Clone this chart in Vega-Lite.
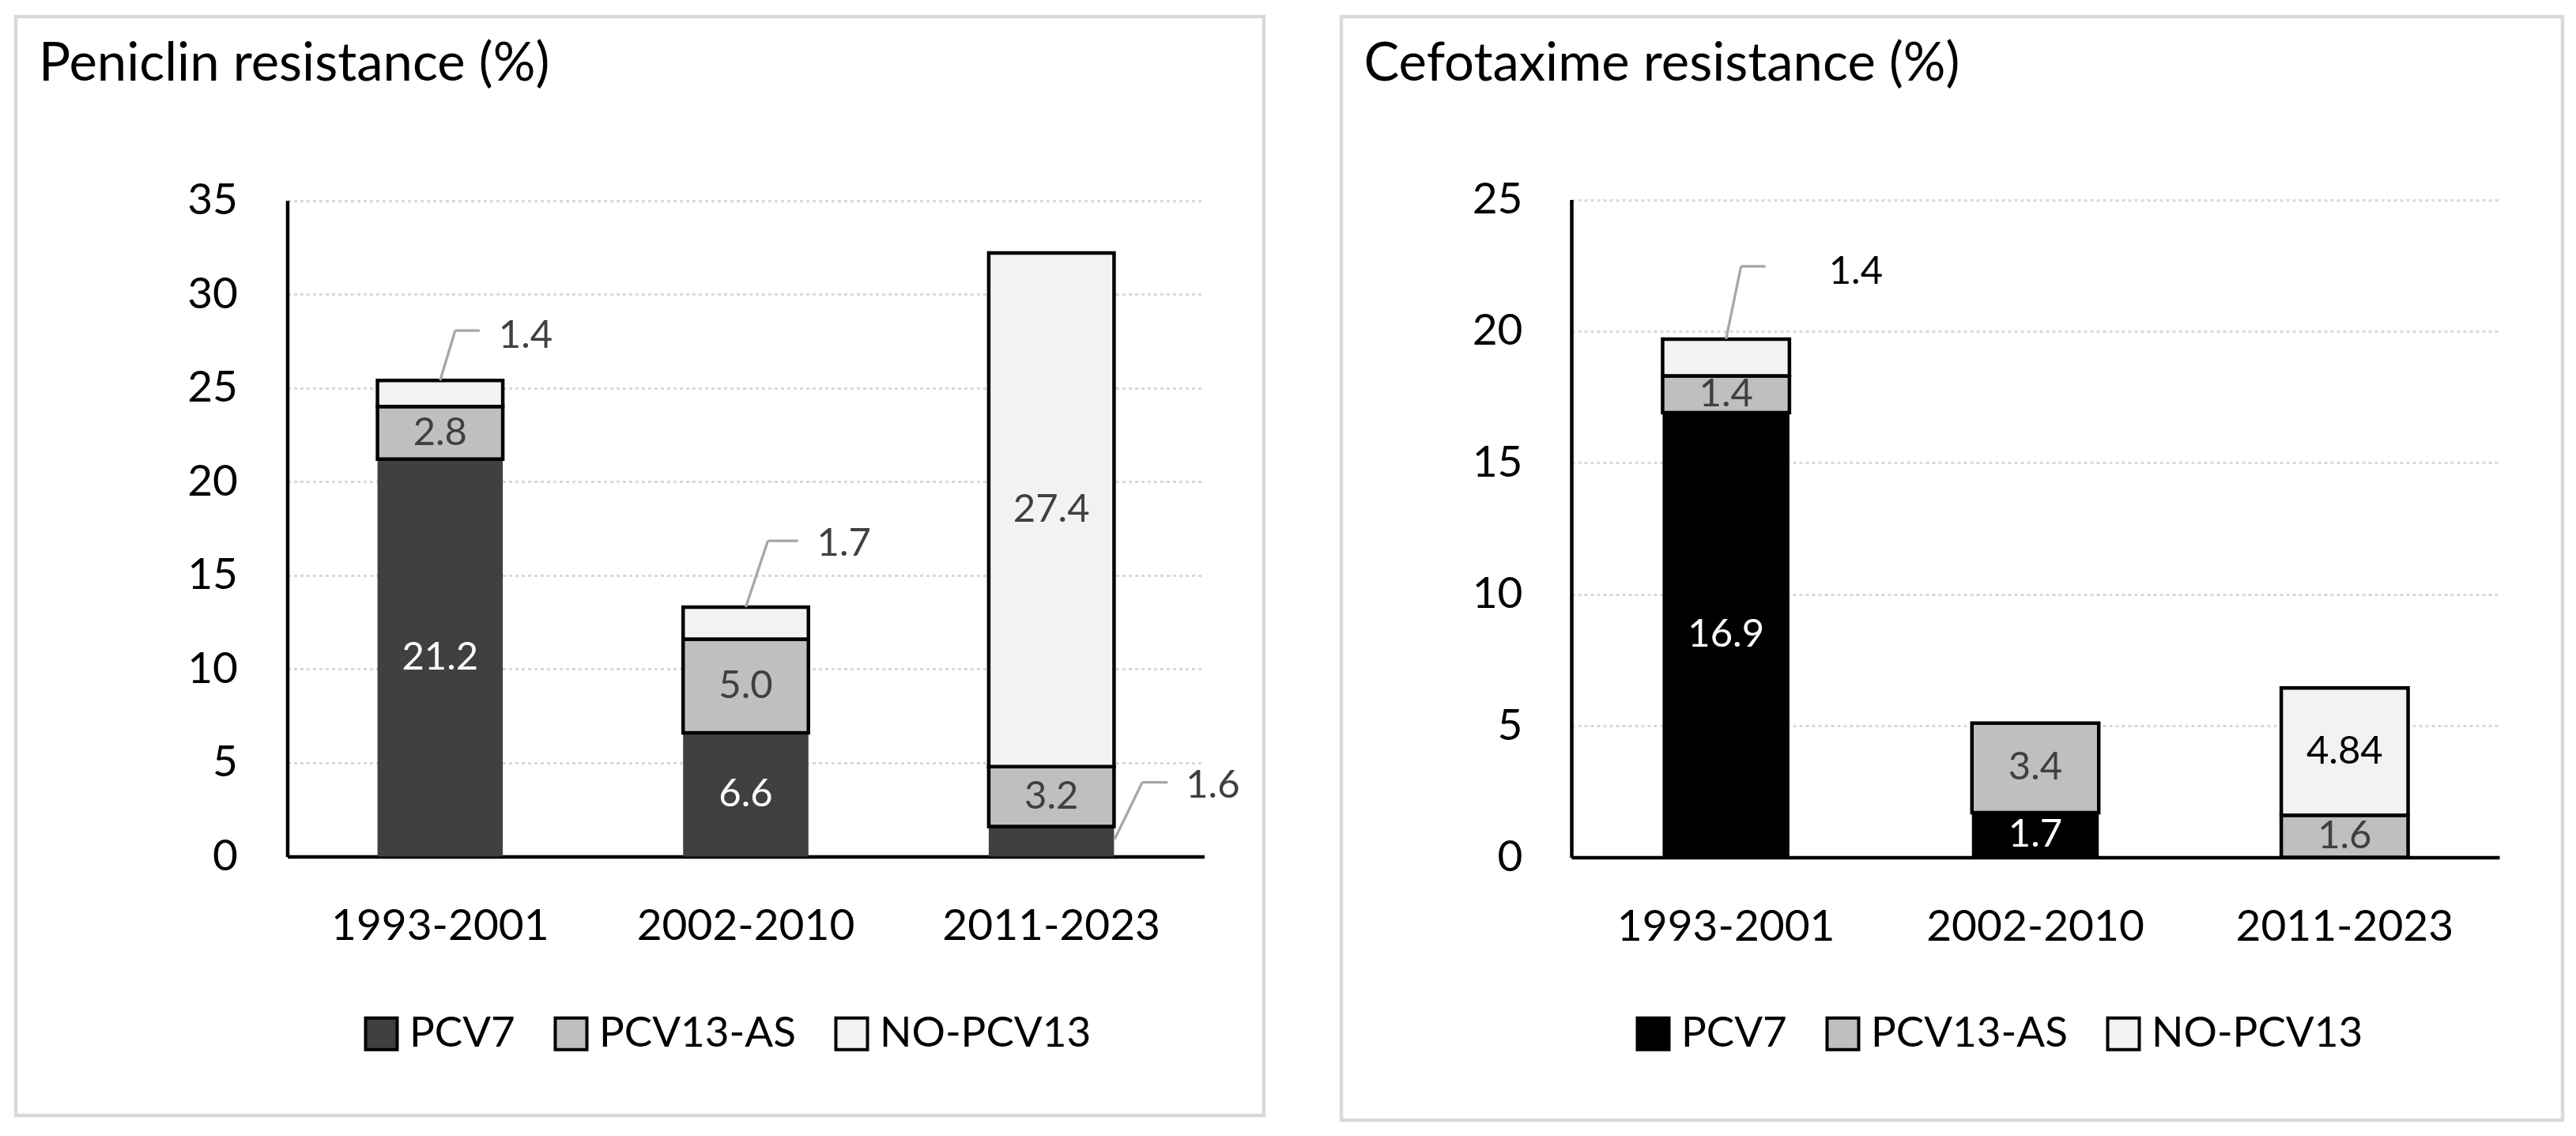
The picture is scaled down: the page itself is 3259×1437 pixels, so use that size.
{
  "$schema": "https://vega.github.io/schema/vega-lite/v6.json",
  "background": "white",
  "padding": {"left": 17, "top": 18, "right": 15, "bottom": 15},
  "spacing": 92,
  "resolve": {"scale": {"color": "independent", "x": "independent", "y": "independent"}, "legend": {"color": "independent"}, "axis": {"x": "independent", "y": "independent"}},
  "datasets": {
    "pen": [
      {"period": "1993-2001", "series": "PCV7", "value": 21.2, "label": "21.2"},
      {"period": "1993-2001", "series": "PCV13-AS", "value": 2.8, "label": "2.8"},
      {"period": "1993-2001", "series": "NO-PCV13", "value": 1.4, "label": "1.4"},
      {"period": "2002-2010", "series": "PCV7", "value": 6.6, "label": "6.6"},
      {"period": "2002-2010", "series": "PCV13-AS", "value": 5.0, "label": "5.0"},
      {"period": "2002-2010", "series": "NO-PCV13", "value": 1.7, "label": "1.7"},
      {"period": "2011-2023", "series": "PCV7", "value": 1.6, "label": "1.6"},
      {"period": "2011-2023", "series": "PCV13-AS", "value": 3.2, "label": "3.2"},
      {"period": "2011-2023", "series": "NO-PCV13", "value": 27.4, "label": "27.4"}
    ],
    "cef": [
      {"period": "1993-2001", "series": "PCV7", "value": 16.9, "label": "16.9"},
      {"period": "1993-2001", "series": "PCV13-AS", "value": 1.4, "label": "1.4"},
      {"period": "1993-2001", "series": "NO-PCV13", "value": 1.4, "label": "1.4"},
      {"period": "2002-2010", "series": "PCV7", "value": 1.7, "label": "1.7"},
      {"period": "2002-2010", "series": "PCV13-AS", "value": 3.4, "label": "3.4"},
      {"period": "2011-2023", "series": "PCV13-AS", "value": 1.6, "label": "1.6"},
      {"period": "2011-2023", "series": "NO-PCV13", "value": 4.84, "label": "4.84"}
    ]
  },
  "config": {
    "font": "Lato",
    "view": {"stroke": "#d9d9d9", "strokeWidth": 4.5},
    "axis": {"ticks": false, "tickSize": 0, "labelColor": "black", "domainColor": "black", "domainWidth": 4.5, "labelFont": "Lato", "labelFontSize": 55, "labelLimit": 2000, "titleFont": "Lato", "titleFontSize": 67, "titleFontWeight": "normal", "titleColor": "black", "titleLimit": 3000},
    "legend": {"labelFont": "Lato", "labelFontSize": 53, "labelColor": "black", "labelLimit": 2000}
  },
  "hconcat": [
    {
      "width": 1579,
      "height": 1390,
      "data": {"name": "pen"},
      "layer": [
        {
          "mark": {"type": "bar", "strokeWidth": 4.5, "strokeJoin": "miter"},
          "encoding": {
            "x": {"field": "period", "type": "nominal", "title": null,
              "scale": {"domain": ["1993-2001", "2002-2010", "2011-2023"], "range": [343.5, 1503.5], "paddingInner": 0.59, "paddingOuter": 0.295},
              "axis": {"labelAngle": 0, "labelPadding": 62, "offset": -327.5, "grid": false}},
            "y": {"field": "value", "type": "quantitative", "stack": "zero", "title": "Peniclin resistance (%)",
              "scale": {"domain": [0, 35], "range": [1062.5, 232.5], "nice": false},
              "axis": {"values": [0, 5, 10, 15, 20, 25, 30, 35], "labelPadding": 63, "offset": -343.5, "grid": true, "gridColor": "#d9d9d9", "gridDash": [4, 4], "gridWidth": 3,
                "titleAngle": 0, "titleX": -315, "titleY": 80.5, "titleAlign": "left", "titleBaseline": "alphabetic"}},
            "color": {"field": "series", "type": "nominal",
              "scale": {"domain": ["PCV7", "PCV13-AS", "NO-PCV13"], "range": ["#404040", "#bfbfbf", "#f2f2f2"]},
              "legend": {"title": null, "orient": "none", "legendX": 436, "legendY": 1260, "direction": "horizontal", "symbolType": "square", "symbolSize": 1600, "symbolStrokeColor": "black", "symbolStrokeWidth": 4, "symbolOpacity": 1, "labelOffset": 9, "columnPadding": 42, "padding": 0}},
            "stroke": {"condition": {"test": "datum.series === 'PCV7'", "value": "transparent"}, "value": "black"},
            "order": {"field": "series", "sort": "descending"}
          }
        },
        {
          "mark": {"type": "text", "fontSize": 49, "baseline": "middle", "align": "center"},
          "encoding": {
            "x": {"field": "period", "type": "nominal", "title": null},
            "y": {"field": "value", "type": "quantitative", "stack": "zero", "bandPosition": 0.5, "title": "Peniclin resistance (%)"},
            "order": {"field": "series", "sort": "descending"},
            "text": {"condition": {"test": "datum.value < 2", "value": ""}, "field": "label", "type": "nominal"},
            "color": {"condition": {"test": "datum.series === 'PCV7'", "value": "white"}, "value": "#404040"}
          }
        },
        {
          "transform": [{"stack": "value", "groupby": ["period"], "sort": [{"field": "series", "order": "descending"}], "as": ["v0", "v1"]}, {"filter": "datum.period === '1993-2001' && datum.series === 'NO-PCV13'"}],
          "mark": {"type": "rule", "color": "#a6a6a6", "strokeWidth": 3.3, "x2Offset": 19, "y2Offset": -63},
          "encoding": {"x": {"field": "period", "type": "nominal", "title": null}, "x2": {"field": "period"}, "y": {"field": "v1", "type": "quantitative", "title": "Peniclin resistance (%)"}, "y2": {"field": "v1"}}
        },
        {
          "transform": [{"stack": "value", "groupby": ["period"], "sort": [{"field": "series", "order": "descending"}], "as": ["v0", "v1"]}, {"filter": "datum.period === '1993-2001' && datum.series === 'NO-PCV13'"}],
          "mark": {"type": "rule", "color": "#a6a6a6", "strokeWidth": 3.3, "xOffset": 19, "x2Offset": 50, "yOffset": -63, "y2Offset": -63},
          "encoding": {"x": {"field": "period", "type": "nominal", "title": null}, "x2": {"field": "period"}, "y": {"field": "v1", "type": "quantitative", "title": "Peniclin resistance (%)"}, "y2": {"field": "v1"}}
        },
        {
          "transform": [{"stack": "value", "groupby": ["period"], "sort": [{"field": "series", "order": "descending"}], "as": ["v0", "v1"]}, {"filter": "datum.period === '1993-2001' && datum.series === 'NO-PCV13'"}],
          "mark": {"type": "text", "fontSize": 49, "align": "left", "baseline": "middle", "dx": 74, "dy": -56, "color": "#404040"},
          "encoding": {"x": {"field": "period", "type": "nominal", "title": null}, "y": {"field": "v1", "type": "quantitative", "title": "Peniclin resistance (%)"}, "text": {"field": "label", "type": "nominal"}}
        },
        {
          "transform": [{"stack": "value", "groupby": ["period"], "sort": [{"field": "series", "order": "descending"}], "as": ["v0", "v1"]}, {"filter": "datum.period === '2002-2010' && datum.series === 'NO-PCV13'"}],
          "mark": {"type": "rule", "color": "#a6a6a6", "strokeWidth": 3.3, "x2Offset": 28, "y2Offset": -84},
          "encoding": {"x": {"field": "period", "type": "nominal", "title": null}, "x2": {"field": "period"}, "y": {"field": "v1", "type": "quantitative", "title": "Peniclin resistance (%)"}, "y2": {"field": "v1"}}
        },
        {
          "transform": [{"stack": "value", "groupby": ["period"], "sort": [{"field": "series", "order": "descending"}], "as": ["v0", "v1"]}, {"filter": "datum.period === '2002-2010' && datum.series === 'NO-PCV13'"}],
          "mark": {"type": "rule", "color": "#a6a6a6", "strokeWidth": 3.3, "xOffset": 28, "x2Offset": 66, "yOffset": -84, "y2Offset": -84},
          "encoding": {"x": {"field": "period", "type": "nominal", "title": null}, "x2": {"field": "period"}, "y": {"field": "v1", "type": "quantitative", "title": "Peniclin resistance (%)"}, "y2": {"field": "v1"}}
        },
        {
          "transform": [{"stack": "value", "groupby": ["period"], "sort": [{"field": "series", "order": "descending"}], "as": ["v0", "v1"]}, {"filter": "datum.period === '2002-2010' && datum.series === 'NO-PCV13'"}],
          "mark": {"type": "text", "fontSize": 49, "align": "left", "baseline": "middle", "dx": 90, "dy": -80, "color": "#404040"},
          "encoding": {"x": {"field": "period", "type": "nominal", "title": null}, "y": {"field": "v1", "type": "quantitative", "title": "Peniclin resistance (%)"}, "text": {"field": "label", "type": "nominal"}}
        },
        {
          "transform": [{"stack": "value", "groupby": ["period"], "sort": [{"field": "series", "order": "descending"}], "as": ["v0", "v1"]}, {"filter": "datum.period === '2011-2023' && datum.series === 'PCV7'"}],
          "mark": {"type": "rule", "color": "#a6a6a6", "strokeWidth": 3.3, "xOffset": 80, "yOffset": 16, "x2Offset": 115, "y2Offset": -56},
          "encoding": {"x": {"field": "period", "type": "nominal", "title": null}, "x2": {"field": "period"}, "y": {"field": "v1", "type": "quantitative", "title": "Peniclin resistance (%)"}, "y2": {"field": "v1"}}
        },
        {
          "transform": [{"stack": "value", "groupby": ["period"], "sort": [{"field": "series", "order": "descending"}], "as": ["v0", "v1"]}, {"filter": "datum.period === '2011-2023' && datum.series === 'PCV7'"}],
          "mark": {"type": "rule", "color": "#a6a6a6", "strokeWidth": 3.3, "xOffset": 115, "x2Offset": 147, "yOffset": -56, "y2Offset": -56},
          "encoding": {"x": {"field": "period", "type": "nominal", "title": null}, "x2": {"field": "period"}, "y": {"field": "v1", "type": "quantitative", "title": "Peniclin resistance (%)"}, "y2": {"field": "v1"}}
        },
        {
          "transform": [{"stack": "value", "groupby": ["period"], "sort": [{"field": "series", "order": "descending"}], "as": ["v0", "v1"]}, {"filter": "datum.period === '2011-2023' && datum.series === 'PCV7'"}],
          "mark": {"type": "text", "fontSize": 49, "align": "left", "baseline": "middle", "dx": 170, "dy": -52, "color": "#404040"},
          "encoding": {"x": {"field": "period", "type": "nominal", "title": null}, "y": {"field": "v1", "type": "quantitative", "title": "Peniclin resistance (%)"}, "text": {"field": "label", "type": "nominal"}}
        }
      ]
    },
    {
      "width": 1545,
      "height": 1396,
      "data": {"name": "cef"},
      "layer": [
        {
          "mark": {"type": "bar", "strokeWidth": 4.5, "strokeJoin": "miter"},
          "encoding": {
            "x": {"field": "period", "type": "nominal", "title": null,
              "scale": {"domain": ["1993-2001", "2002-2010", "2011-2023"], "range": [291, 1465], "paddingInner": 0.59, "paddingOuter": 0.295},
              "axis": {"labelAngle": 0, "labelPadding": 62, "offset": -332.5, "grid": false}},
            "y": {"field": "value", "type": "quantitative", "stack": "zero", "title": "Cefotaxime resistance (%)",
              "scale": {"domain": [0, 25], "range": [1063.5, 231.5], "nice": false},
              "axis": {"values": [0, 5, 10, 15, 20, 25], "labelPadding": 62, "offset": -291, "grid": true, "gridColor": "#d9d9d9", "gridDash": [4, 4], "gridWidth": 3,
                "titleAngle": 0, "titleX": -263, "titleY": 80.5, "titleAlign": "left", "titleBaseline": "alphabetic"}},
            "color": {"field": "series", "type": "nominal",
              "scale": {"domain": ["PCV7", "PCV13-AS", "NO-PCV13"], "range": ["#000000", "#bfbfbf", "#f2f2f2"]},
              "legend": {"title": null, "orient": "none", "legendX": 368, "legendY": 1260, "direction": "horizontal", "symbolType": "square", "symbolSize": 1600, "symbolStrokeColor": "black", "symbolStrokeWidth": 4, "symbolOpacity": 1, "labelOffset": 9, "columnPadding": 42, "padding": 0}},
            "stroke": {"condition": {"test": "datum.series === 'PCV7'", "value": "transparent"}, "value": "black"},
            "order": {"field": "series", "sort": "descending"}
          }
        },
        {
          "mark": {"type": "text", "fontSize": 49, "baseline": "middle", "align": "center"},
          "encoding": {
            "x": {"field": "period", "type": "nominal", "title": null},
            "y": {"field": "value", "type": "quantitative", "stack": "zero", "bandPosition": 0.5, "title": "Cefotaxime resistance (%)"},
            "order": {"field": "series", "sort": "descending"},
            "text": {"condition": {"test": "datum.series === 'NO-PCV13' && datum.value < 2", "value": ""}, "field": "label", "type": "nominal"},
            "color": {"condition": [{"test": "datum.series === 'PCV7'", "value": "white"}, {"test": "datum.series === 'NO-PCV13'", "value": "black"}], "value": "#404040"}
          }
        },
        {
          "transform": [{"stack": "value", "groupby": ["period"], "sort": [{"field": "series", "order": "descending"}], "as": ["v0", "v1"]}, {"filter": "datum.period === '1993-2001' && datum.series === 'NO-PCV13'"}],
          "mark": {"type": "rule", "color": "#a6a6a6", "strokeWidth": 3.3, "x2Offset": 19, "y2Offset": -92},
          "encoding": {"x": {"field": "period", "type": "nominal", "title": null}, "x2": {"field": "period"}, "y": {"field": "v1", "type": "quantitative", "title": "Cefotaxime resistance (%)"}, "y2": {"field": "v1"}}
        },
        {
          "transform": [{"stack": "value", "groupby": ["period"], "sort": [{"field": "series", "order": "descending"}], "as": ["v0", "v1"]}, {"filter": "datum.period === '1993-2001' && datum.series === 'NO-PCV13'"}],
          "mark": {"type": "rule", "color": "#a6a6a6", "strokeWidth": 3.3, "xOffset": 19, "x2Offset": 50, "yOffset": -92, "y2Offset": -92},
          "encoding": {"x": {"field": "period", "type": "nominal", "title": null}, "x2": {"field": "period"}, "y": {"field": "v1", "type": "quantitative", "title": "Cefotaxime resistance (%)"}, "y2": {"field": "v1"}}
        },
        {
          "transform": [{"stack": "value", "groupby": ["period"], "sort": [{"field": "series", "order": "descending"}], "as": ["v0", "v1"]}, {"filter": "datum.period === '1993-2001' && datum.series === 'NO-PCV13'"}],
          "mark": {"type": "text", "fontSize": 49, "align": "left", "baseline": "middle", "dx": 130, "dy": -85, "color": "black"},
          "encoding": {"x": {"field": "period", "type": "nominal", "title": null}, "y": {"field": "v1", "type": "quantitative", "title": "Cefotaxime resistance (%)"}, "text": {"field": "label", "type": "nominal"}}
        }
      ]
    }
  ]
}
